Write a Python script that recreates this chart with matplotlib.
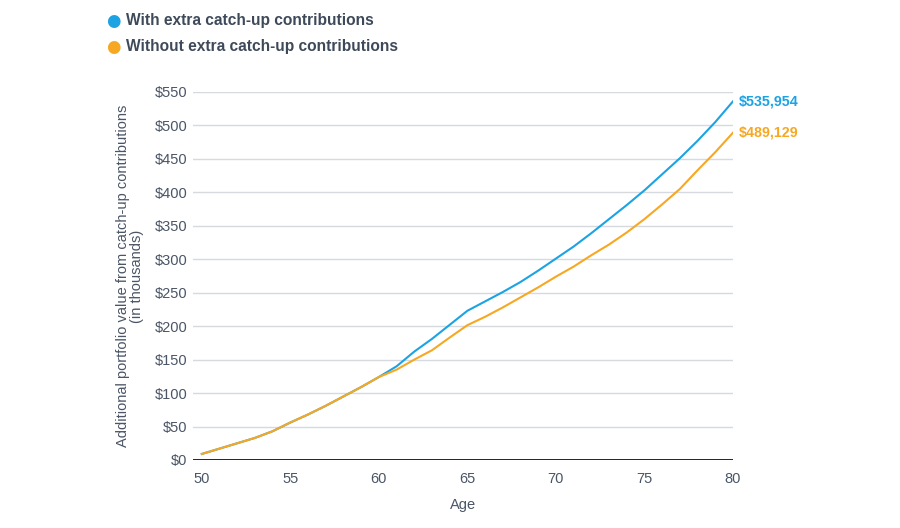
import numpy as np
import matplotlib.pyplot as plt

plt.rcParams['font.family'] = ['Liberation Sans', 'DejaVu Sans']

# data (in thousands of dollars)
ages = list(range(50, 81))
with_extra = [9, 17, 25, 33, 43, 56, 68, 81, 95, 109, 124,
              140, 162, 181, 202, 223, 237, 251, 266, 283, 301,
              319, 339, 360, 381, 403, 427, 451, 477, 505, 535.954]
without_extra = [9, 17, 25, 33, 43, 56, 68, 81, 95, 109, 124,
                 135, 150, 164, 183, 201.5, 214, 228, 243, 258, 274,
                 289, 306, 322, 340, 360, 382, 405, 433, 460, 489.129]
series_names = ["With extra catch-up contributions",
                "Without extra catch-up contributions"]
end_labels = ["$535,954", "$489,129"]
yticks = list(range(0, 551, 50))
xticks = [50, 55, 60, 65, 70, 75, 80]

blue = "#1ba3e3"
orange = "#f7a823"
text_col = "#3e4a5a"

fig = plt.figure(figsize=(9, 5.28), dpi=100)
ax = fig.add_axes([0.2144, 0.1288, 0.6, 0.6970])

for y in yticks[1:]:
    ax.axhline(y, color="#d6d9de", lw=1.0, zorder=1)
ax.axhline(0, color="#111111", lw=2.0, zorder=3)

ax.plot(ages, with_extra, color=blue, lw=1.5, zorder=4)
ax.plot(ages, without_extra, color=orange, lw=1.5, zorder=5)

ax.set_xlim(49.5, 80)
ax.set_ylim(0, 550)
ax.set_yticks(yticks)
ax.set_yticklabels([f"${v}" for v in yticks])
ax.set_xticks(xticks)
ax.tick_params(axis="both", length=0, labelsize=10.5, colors="#4a5566")
ax.tick_params(axis="y", pad=4)
ax.tick_params(axis="x", pad=9)
for s in ax.spines.values():
    s.set_visible(False)

ax.set_xlabel("Age", fontsize=10.5, color="#4a5566", labelpad=8)
ax.set_ylabel("Additional portfolio value from catch-up contributions\n(in thousands)",
              fontsize=10.5, color="#4a5566", labelpad=8, linespacing=1.0)

# end labels
ax.annotate(end_labels[0], xy=(ages[-1], with_extra[-1]), xytext=(4, 0),
            textcoords="offset points", va="center", ha="left",
            color=blue, fontsize=10.3, fontweight="bold", annotation_clip=False)
ax.annotate(end_labels[1], xy=(ages[-1], without_extra[-1]), xytext=(4, 0),
            textcoords="offset points", va="center", ha="left",
            color=orange, fontsize=10.3, fontweight="bold", annotation_clip=False)

# legend at top
for i, (name, col) in enumerate(zip(series_names, [blue, orange])):
    yy = 1 - (21 + 26 * i) / 528
    fig.text(113 / 900, yy, "\u25cf", color=col, fontsize=12, ha="center", va="center",
             family="DejaVu Sans")
    fig.text(126 / 900, yy, name, color=text_col, fontsize=11.2, fontweight="bold",
             ha="left", va="center")

fig.savefig("out.png", dpi=100)
